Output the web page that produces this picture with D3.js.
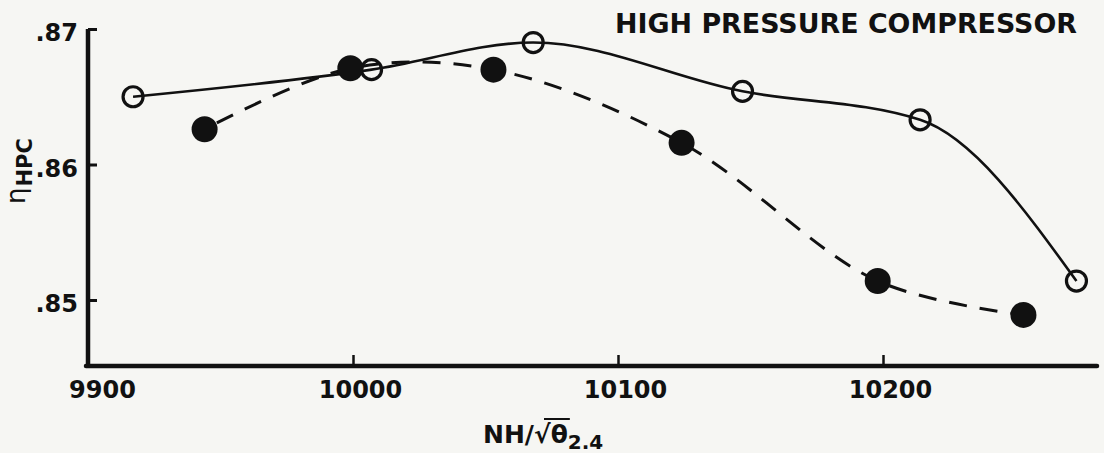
<!DOCTYPE html>
<html>
<head>
<meta charset="utf-8">
<script src="https://cdn.jsdelivr.net/npm/d3@7"></script>
<style>
  body { margin: 0; background: #f6f6f3; }
  text { font-family: "DejaVu Sans", sans-serif; font-weight: bold; fill: #111; }
</style>
</head>
<body>
<script>
// open circles, solid curve
var openSpeed = [9917, 10007, 10068, 10147, 10214, 10273];
var openEff   = [0.8650, 0.8670, 0.8690, 0.8654, 0.8633, 0.8514];
// filled circles, dashed curve
var fillSpeed = [9944, 9999, 10053, 10124, 10198, 10253];
var fillEff   = [0.8626, 0.8671, 0.8670, 0.8616, 0.8514, 0.8489];

var xTicks = [9900, 10000, 10100, 10200];
var yTicks = [0.85, 0.86, 0.87];
var yTickLabels = [".85", ".86", ".87"];

var svg = d3.select("body")
    .append("svg")
    .attr("width", "1104")
    .attr("height", "453")
    .style('display', 'block');
margin = {top: 29, right: 7, bottom: 87, left: 88};
width = +svg.attr("width") - margin.left - margin.right;
height = +svg.attr("height") - margin.top - margin.bottom;
var g = svg.append("g").attr("transform", "translate(" + margin.left + "," + margin.top + ")");

var x = d3.scaleLinear()
    .domain([9900, 10200])
    .range([0, 795]);

var y = d3.scaleLinear()
    .domain([0.85, 0.87])
    .range([271, 0]);

var ink = "#111";

// axis lines
g.append("line")
    .attr("x1", 0).attr("y1", 0).attr("x2", 0).attr("y2", height)
    .attr("stroke", ink).attr("stroke-width", 4.5);
g.append("line")
    .attr("x1", -2).attr("y1", height).attr("x2", width).attr("y2", height)
    .attr("stroke", ink).attr("stroke-width", 4.5)
    .attr("stroke-linecap", "round");

var xAxis = d3.axisBottom(x)
    .tickValues(xTicks)
    .tickSizeInner(-11)
    .tickSizeOuter(0)
    .tickFormat(d3.format("d"));

var yAxis = d3.axisLeft(y)
    .tickValues(yTicks)
    .tickSizeInner(-9)
    .tickSizeOuter(0)
    .tickFormat(function(d, i) { return yTickLabels[i]; });

var gx = g.append("g")
    .attr("transform", "translate(0," + height + ")")
    .call(xAxis);
gx.select(".domain").remove();
gx.selectAll(".tick line").attr("stroke", ink).attr("stroke-width", 2.5)
    .filter(function(d) { return d === 9900; }).remove();
gx.selectAll(".tick text")
    .attr("y", 32)
    .attr("dy", 0)
    .attr("dx", function(d) { return d === 9900 ? 14 : 7; })
    .style("font-size", "24px")
    .style("font-family", "DejaVu Sans")
    .style("font-weight", "bold")
    .attr("fill", ink);

var gy = g.append("g").call(yAxis);
gy.select(".domain").remove();
gy.selectAll(".tick line").attr("stroke", ink).attr("stroke-width", 3);
gy.selectAll(".tick text")
    .attr("x", -10)
    .attr("dy", "0.48em")
    .style("font-size", "24px")
    .style("font-family", "DejaVu Sans")
    .style("font-weight", "bold")
    .attr("fill", ink);

// curves
var openPts = openSpeed.map(function(d, i) { return [x(d), y(openEff[i])]; });
var fillPts = fillSpeed.map(function(d, i) { return [x(d), y(fillEff[i])]; });

var solidLine = d3.line().curve(d3.curveMonotoneX);
var dashLine = d3.line().curve(d3.curveCatmullRom.alpha(0.5));

g.append("path")
    .attr("d", solidLine(openPts))
    .attr("fill", "none")
    .attr("stroke", ink)
    .attr("stroke-width", 2.6);

g.append("path")
    .attr("d", dashLine(fillPts))
    .attr("fill", "none")
    .attr("stroke", ink)
    .attr("stroke-width", 3)
    .attr("stroke-dasharray", "18,13")
    .attr("stroke-dashoffset", -14);

g.selectAll(".open")
    .data(openPts)
    .enter()
    .append("circle")
    .attr("class", "open")
    .attr("cx", function(d) { return d[0]; })
    .attr("cy", function(d) { return d[1]; })
    .attr("r", 10)
    .attr("fill", "none")
    .attr("stroke", ink)
    .attr("stroke-width", 3.2);

g.selectAll(".fill")
    .data(fillPts)
    .enter()
    .append("circle")
    .attr("class", "fill")
    .attr("cx", function(d) { return d[0]; })
    .attr("cy", function(d) { return d[1]; })
    .attr("r", 13)
    .attr("fill", ink);

// title
svg.append("text")
    .attr("x", 615)
    .attr("y", 33)
    .attr("textLength", 462)
    .attr("lengthAdjust", "spacingAndGlyphs")
    .style("font-size", "26px")
    .text("HIGH PRESSURE COMPRESSOR");

// y label: eta with subscript HPC
var yl = svg.append("text")
    .attr("transform", "translate(25,204) rotate(-90)")
    .style("font-size", "26px");
yl.append("tspan").style("font-weight", "normal").text("η");
yl.append("tspan").attr("dy", 7).attr("dx", 1).style("font-size", "21px").text("HPC");

// x label
var xl = svg.append("text")
    .attr("x", 483)
    .attr("y", 443)
    .style("font-size", "25px");
xl.append("tspan").text("NH/√");
xl.append("tspan").text("θ");
xl.append("tspan").attr("dy", 6).style("font-size", "20px").text("2.4");

var node = xl.node();
var s = node.getStartPositionOfChar(3);
var e = node.getEndPositionOfChar(4);
svg.append("line")
    .attr("x1", s.x + 10).attr("x2", e.x + 2)
    .attr("y1", 419).attr("y2", 419)
    .attr("stroke", ink).attr("stroke-width", 2);
</script>
</body>
</html>
